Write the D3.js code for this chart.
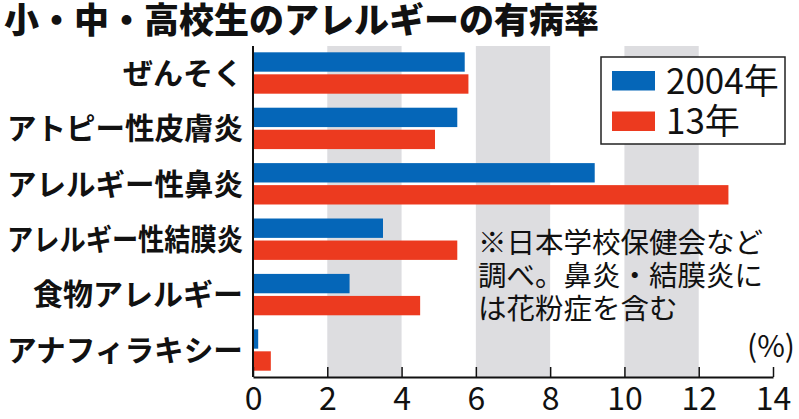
<!DOCTYPE html>
<html>
<head>
<meta charset="utf-8">
<script src="https://cdn.jsdelivr.net/npm/d3@7"></script>
<style>
  body { margin: 0; background: #fff; }
  svg { display: block; }
</style>
</head>
<body>
<div id="chart"></div>
<script>
// データ
const categories = ['ぜんそく', 'アトピー性皮膚炎', 'アレルギー性鼻炎', 'アレルギー性結膜炎', '食物アレルギー', 'アナフィラキシー'];
const series = ['2004年', '13年'];
const values2004 = [5.7, 5.5, 9.2, 3.5, 2.6, 0.14];
const values2013 = [5.8, 4.9, 12.8, 5.5, 4.5, 0.48];
const xTicks = [0, 2, 4, 6, 8, 10, 12, 14];
const shadedBands = [[2, 4], [6, 8], [10, 12]];
const noteLines = ['※日本学校保健会など', '調べ。鼻炎・結膜炎に', 'は花粉症を含む'];

const width = 799, height = 419;
const cjk = "'Noto Sans CJK JP', sans-serif";
const narrow = "'Liberation Sans Narrow', 'Noto Sans CJK JP', sans-serif";
const colors = ['#0566b8', '#ec3a1f'];

const svg = d3.select('#chart').append('svg')
  .attr('width', width)
  .attr('height', height);

const x = d3.scaleLinear().domain([0, 14]).range([253, 773]);
const y = d3.scaleBand().domain(categories).range([45.3, 377.7])
  .paddingInner(0.253).paddingOuter(0.1265);
const ySub = d3.scaleBand().domain(series).range([0, y.bandwidth()]).paddingInner(0.12);

const plotTop = 46, plotBottom = 377;

// 網掛け
svg.selectAll('rect.band')
  .data(shadedBands)
  .enter()
  .append('rect')
  .attr('class', 'band')
  .attr('x', d => x(d[0]))
  .attr('width', d => x(d[1]) - x(d[0]))
  .attr('y', plotTop)
  .attr('height', plotBottom - plotTop)
  .attr('fill', '#dddde0');

// 注記
svg.append('g')
  .selectAll('text')
  .data(noteLines)
  .enter()
  .append('text')
  .attr('x', 478)
  .attr('y', (d, i) => 253 + i * 33)
  .attr('font-family', cjk)
  .attr('font-size', 28.5)
  .attr('fill', '#111')
  .text(d => d);

// 棒
const rows = categories.map((c, i) => ({cat: c, vals: [values2004[i], values2013[i]]}));
const groups = svg.selectAll('g.row')
  .data(rows)
  .enter()
  .append('g')
  .attr('class', 'row')
  .attr('transform', d => 'translate(0,' + y(d.cat) + ')');

groups.selectAll('rect')
  .data(d => d.vals.map((v, j) => ({s: series[j], v: v, j: j})))
  .enter()
  .append('rect')
  .attr('x', x(0))
  .attr('y', d => ySub(d.s))
  .attr('width', d => x(d.v) - x(0))
  .attr('height', ySub.bandwidth())
  .attr('fill', d => colors[d.j]);

// 項目名
svg.selectAll('text.cat')
  .data(categories)
  .enter()
  .append('text')
  .attr('class', 'cat')
  .attr('x', 243)
  .attr('y', d => y(d) + y.bandwidth() / 2 + 30 * 0.36)
  .attr('text-anchor', 'end')
  .attr('font-family', cjk)
  .attr('font-weight', 700)
  .attr('font-size', 30)
  .attr('fill', '#111')
  .text(d => d)
  .each(function() {
    if (this.getComputedTextLength() > 236) {
      d3.select(this).attr('textLength', 236).attr('lengthAdjust', 'spacingAndGlyphs');
    }
  });

// 軸
const xAxis = d3.axisBottom(x)
  .tickValues(xTicks)
  .tickSizeInner(-10)
  .tickSizeOuter(0)
  .tickPadding(10)
  .tickFormat(d3.format('d'));

const axisG = svg.append('g')
  .attr('transform', 'translate(0,' + plotBottom + ')')
  .call(xAxis);
axisG.select('.domain').attr('stroke', '#111').attr('stroke-width', 2);
axisG.selectAll('.tick line').attr('stroke', '#111').attr('stroke-width', 1.5);
axisG.selectAll('.tick text')
  .attr('font-family', narrow)
  .attr('font-size', 32)
  .attr('fill', '#111');

svg.append('line')
  .attr('x1', x(0)).attr('x2', x(0))
  .attr('y1', plotTop).attr('y2', plotBottom)
  .attr('stroke', '#111')
  .attr('stroke-width', 2);

svg.append('text')
  .attr('x', 795)
  .attr('y', 357)
  .attr('text-anchor', 'end')
  .attr('font-family', narrow)
  .attr('font-size', 30)
  .attr('fill', '#111')
  .text('(%)');

// 凡例
const legend = svg.append('g');
legend.append('rect')
  .attr('x', 601).attr('y', 57)
  .attr('width', 184).attr('height', 87)
  .attr('fill', '#fff')
  .attr('stroke', '#222')
  .attr('stroke-width', 1.5);

const legendItems = legend.selectAll('g.item')
  .data(series)
  .enter()
  .append('g')
  .attr('class', 'item')
  .attr('transform', (d, i) => 'translate(0,' + (i * 40.5) + ')');

legendItems.append('rect')
  .attr('x', 612).attr('y', 71)
  .attr('width', 43).attr('height', 19.5)
  .attr('fill', (d, i) => colors[i]);

legendItems.append('text')
  .attr('x', 666).attr('y', 93.5)
  .attr('font-family', narrow)
  .attr('font-size', 35)
  .attr('fill', '#111')
  .text(d => d);

// タイトル
svg.append('text')
  .attr('x', 4)
  .attr('y', 33)
  .attr('font-family', cjk)
  .attr('font-weight', 900)
  .attr('font-size', 35)
  .attr('fill', '#111')
  .text('小・中・高校生のアレルギーの有病率');
</script>
</body>
</html>
